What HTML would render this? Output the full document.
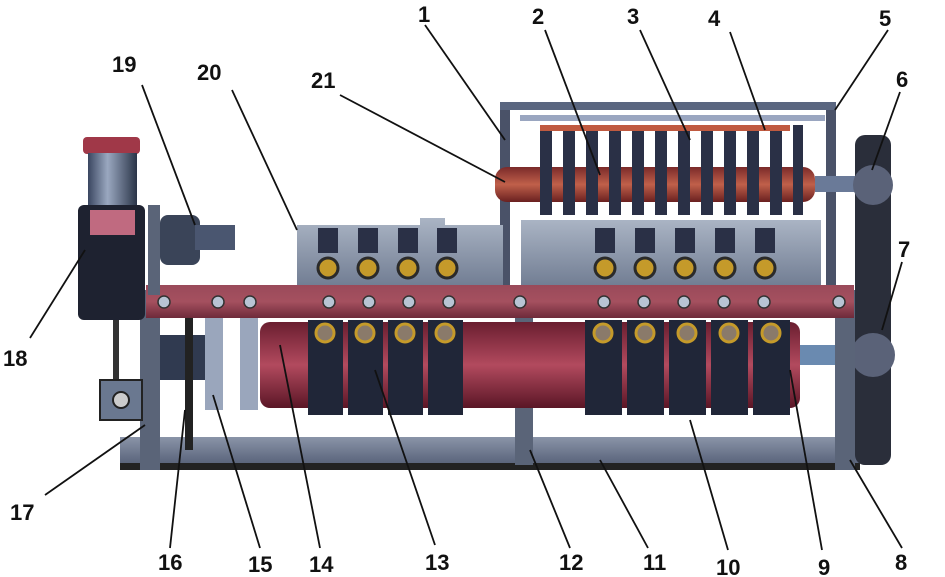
<!DOCTYPE html>
<html><head><style>
html,body{margin:0;padding:0;background:#fff;width:945px;height:577px;overflow:hidden}
text{font-family:"Liberation Sans",sans-serif;font-weight:bold;font-size:22px;fill:#111}
</style></head><body>
<svg width="945" height="577" viewBox="0 0 945 577" xmlns="http://www.w3.org/2000/svg">
<defs>
<linearGradient id="red" x1="0" y1="0" x2="0" y2="1"><stop offset="0" stop-color="#6a1e30"/><stop offset=".5" stop-color="#b24a5e"/><stop offset="1" stop-color="#5a1626"/></linearGradient>
<linearGradient id="red2" x1="0" y1="0" x2="0" y2="1"><stop offset="0" stop-color="#7a2a2a"/><stop offset=".5" stop-color="#c0604a"/><stop offset="1" stop-color="#6a2020"/></linearGradient>
<linearGradient id="bar" x1="0" y1="0" x2="0" y2="1"><stop offset="0" stop-color="#9a4a5a"/><stop offset=".5" stop-color="#a5505f"/><stop offset="1" stop-color="#6e2a3a"/></linearGradient>
<linearGradient id="gray" x1="0" y1="0" x2="0" y2="1"><stop offset="0" stop-color="#aab4c4"/><stop offset="1" stop-color="#6e7a90"/></linearGradient>
<linearGradient id="base" x1="0" y1="0" x2="0" y2="1"><stop offset="0" stop-color="#8a94a8"/><stop offset="1" stop-color="#4e5870"/></linearGradient>
<linearGradient id="cyl" x1="0" y1="0" x2="1" y2="0"><stop offset="0" stop-color="#3a4660"/><stop offset=".4" stop-color="#9aa8c0"/><stop offset="1" stop-color="#2a3448"/></linearGradient>
</defs>
<rect x="120" y="437" width="740" height="33" fill="url(#base)"/>
<rect x="120" y="463" width="740" height="7" fill="#222"/>
<rect x="500" y="105" width="10" height="180" fill="#4a5268"/>
<rect x="826" y="105" width="10" height="180" fill="#4a5268"/>
<rect x="500" y="102" width="336" height="8" fill="#5a6680"/>
<rect x="520" y="115" width="305" height="6" fill="#9aa6c0"/>
<rect x="495" y="167" width="320" height="35" rx="12" fill="url(#red2)"/>
<g fill="#2a3046">
<rect x="540" y="125" width="12" height="90"/><rect x="563" y="125" width="12" height="90"/><rect x="586" y="125" width="12" height="90"/><rect x="609" y="125" width="12" height="90"/><rect x="632" y="125" width="12" height="90"/><rect x="655" y="125" width="12" height="90"/><rect x="678" y="125" width="12" height="90"/><rect x="701" y="125" width="12" height="90"/><rect x="724" y="125" width="12" height="90"/><rect x="747" y="125" width="12" height="90"/><rect x="770" y="125" width="12" height="90"/><rect x="793" y="125" width="10" height="90"/>
</g>
<g fill="#c05a40"><rect x="540" y="125" width="250" height="6"/></g>
<rect x="815" y="176" width="45" height="16" fill="#6a7a98"/>
<path d="M297 225 H420 V218 H445 V225 H503 V290 H297 Z" fill="url(#gray)"/>
<rect x="521" y="220" width="300" height="70" fill="url(#gray)"/>
<g fill="#c59a2a" stroke="#2a2a2a" stroke-width="3">
<circle cx="328" cy="268" r="10"/><circle cx="368" cy="268" r="10"/><circle cx="408" cy="268" r="10"/><circle cx="447" cy="268" r="10"/>
<circle cx="605" cy="268" r="10"/><circle cx="645" cy="268" r="10"/><circle cx="685" cy="268" r="10"/><circle cx="725" cy="268" r="10"/><circle cx="765" cy="268" r="10"/>
</g>
<g fill="#2a3046">
<rect x="318" y="228" width="20" height="25"/><rect x="358" y="228" width="20" height="25"/><rect x="398" y="228" width="20" height="25"/><rect x="437" y="228" width="20" height="25"/>
<rect x="595" y="228" width="20" height="25"/><rect x="635" y="228" width="20" height="25"/><rect x="675" y="228" width="20" height="25"/><rect x="715" y="228" width="20" height="25"/><rect x="755" y="228" width="20" height="25"/>
</g>
<rect x="855" y="135" width="36" height="330" rx="10" fill="#2a2e3a"/>
<circle cx="873" cy="185" r="20" fill="#5a6278"/><circle cx="873" cy="355" r="22" fill="#5a6278"/>
<rect x="790" y="345" width="65" height="20" fill="#6a8ab0"/>
<rect x="140" y="290" width="20" height="180" fill="#5a6478"/>
<rect x="515" y="290" width="18" height="175" fill="#5a6478"/>
<rect x="835" y="290" width="20" height="180" fill="#5a6478"/>
<rect x="260" y="322" width="540" height="86" rx="10" fill="url(#red)"/>
<rect x="160" y="335" width="60" height="45" fill="#303a50"/>
<rect x="185" y="300" width="8" height="150" fill="#222"/>
<rect x="205" y="315" width="18" height="95" fill="#9aa6bc"/>
<rect x="240" y="315" width="18" height="95" fill="#9aa6bc"/>
<g fill="#202638">
<rect x="308" y="320" width="35" height="95"/><rect x="348" y="320" width="35" height="95"/><rect x="388" y="320" width="35" height="95"/><rect x="428" y="320" width="35" height="95"/>
<rect x="585" y="320" width="37" height="95"/><rect x="627" y="320" width="37" height="95"/><rect x="669" y="320" width="37" height="95"/><rect x="711" y="320" width="37" height="95"/><rect x="753" y="320" width="37" height="95"/>
</g>
<g fill="#8a7a6a" stroke="#c59a2a" stroke-width="3">
<circle cx="325" cy="333" r="9"/><circle cx="365" cy="333" r="9"/><circle cx="405" cy="333" r="9"/><circle cx="445" cy="333" r="9"/>
<circle cx="603" cy="333" r="9"/><circle cx="645" cy="333" r="9"/><circle cx="687" cy="333" r="9"/><circle cx="729" cy="333" r="9"/><circle cx="771" cy="333" r="9"/>
</g>
<rect x="146" y="285" width="708" height="33" fill="url(#bar)"/>
<g fill="#b8c4d4" stroke="#333" stroke-width="1.5">
<circle cx="164" cy="302" r="6"/><circle cx="218" cy="302" r="6"/><circle cx="250" cy="302" r="6"/><circle cx="329" cy="302" r="6"/><circle cx="369" cy="302" r="6"/><circle cx="409" cy="302" r="6"/><circle cx="449" cy="302" r="6"/><circle cx="520" cy="302" r="6"/><circle cx="604" cy="302" r="6"/><circle cx="644" cy="302" r="6"/><circle cx="684" cy="302" r="6"/><circle cx="724" cy="302" r="6"/><circle cx="764" cy="302" r="6"/><circle cx="839" cy="302" r="6"/>
</g>
<rect x="83" y="137" width="57" height="17" rx="4" fill="#a03848"/>
<rect x="88" y="153" width="49" height="55" fill="url(#cyl)"/>
<rect x="78" y="205" width="67" height="115" rx="6" fill="#1e2230"/>
<rect x="90" y="210" width="45" height="25" fill="#c06a80"/>
<rect x="148" y="205" width="12" height="90" fill="#5a6478"/>
<rect x="160" y="215" width="40" height="50" rx="8" fill="#3a4458"/>
<rect x="195" y="225" width="40" height="25" fill="#4a5670"/>
<rect x="113" y="320" width="6" height="60" fill="#333"/>
<rect x="100" y="380" width="42" height="40" fill="#6a7890" stroke="#222" stroke-width="2"/>
<circle cx="121" cy="400" r="8" fill="#ccc" stroke="#222" stroke-width="2"/>
<g stroke="#111" stroke-width="1.8" fill="none">
<line x1="425" y1="25" x2="505" y2="140"/>
<line x1="545" y1="30" x2="600" y2="175"/>
<line x1="640" y1="30" x2="690" y2="140"/>
<line x1="730" y1="32" x2="765" y2="130"/>
<line x1="888" y1="30" x2="835" y2="110"/>
<line x1="900" y1="92" x2="872" y2="170"/>
<line x1="902" y1="262" x2="882" y2="330"/>
<line x1="902" y1="548" x2="850" y2="460"/>
<line x1="822" y1="550" x2="790" y2="370"/>
<line x1="728" y1="550" x2="690" y2="420"/>
<line x1="648" y1="548" x2="600" y2="460"/>
<line x1="570" y1="548" x2="530" y2="450"/>
<line x1="435" y1="545" x2="375" y2="370"/>
<line x1="320" y1="548" x2="280" y2="345"/>
<line x1="260" y1="548" x2="213" y2="395"/>
<line x1="170" y1="548" x2="185" y2="410"/>
<line x1="45" y1="495" x2="145" y2="425"/>
<line x1="30" y1="338" x2="85" y2="250"/>
<line x1="142" y1="85" x2="195" y2="225"/>
<line x1="232" y1="90" x2="297" y2="230"/>
<line x1="340" y1="95" x2="505" y2="182"/>
</g>
<text x="418" y="22">1</text>
<text x="532" y="24">2</text>
<text x="627" y="24">3</text>
<text x="708" y="26">4</text>
<text x="879" y="26">5</text>
<text x="896" y="87">6</text>
<text x="898" y="257">7</text>
<text x="895" y="570">8</text>
<text x="818" y="575">9</text>
<text x="716" y="575">10</text>
<text x="643" y="570">11</text>
<text x="559" y="570">12</text>
<text x="425" y="570">13</text>
<text x="309" y="572">14</text>
<text x="248" y="572">15</text>
<text x="158" y="570">16</text>
<text x="10" y="520">17</text>
<text x="3" y="366">18</text>
<text x="112" y="72">19</text>
<text x="197" y="80">20</text>
<text x="311" y="88">21</text>
</svg>
</body></html>
